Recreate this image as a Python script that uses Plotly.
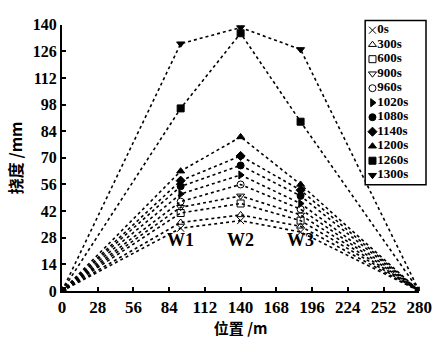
import plotly.graph_objects as go

positions = [0, 93, 140, 187, 280]
series_names = ["0s", "300s", "600s", "900s", "960s", "1020s", "1080s", "1140s", "1200s", "1260s", "1300s"]
w1 = [33, 36, 41, 44, 47, 51, 55, 58, 63, 96, 130]
w2 = [37, 40, 46, 50, 56, 61, 66, 71, 81, 135.5, 138.5]
w3 = [31, 34, 37, 40, 43, 46, 50, 53, 56, 89, 127]
symbols = ["x-thin", "triangle-up-open", "square-open", "triangle-down-open", "circle-open",
           "triangle-right", "circle", "diamond", "triangle-up", "square", "triangle-down"]
x_ticks = [0, 28, 56, 84, 112, 140, 168, 196, 224, 252, 280]
y_ticks = [0, 14, 28, 42, 56, 70, 84, 98, 112, 126, 140]
w_labels = ["W1", "W2", "W3"]

serif = "Liberation Serif"
cjk = "Noto Sans CJK SC"
fig = go.Figure()
for i, name in enumerate(series_names):
    ys = [0, w1[i], w2[i], w3[i], 0]
    fig.add_trace(go.Scatter(
        x=positions, y=ys, mode="lines", showlegend=False, hoverinfo="skip",
        line=dict(color="black", width=1.6, dash="dot"),
    ))
for i, name in enumerate(series_names):
    ys = [0, w1[i], w2[i], w3[i], 0]
    fig.add_trace(go.Scatter(
        x=positions, y=ys, name=name, mode="markers", showlegend=False,
        marker=dict(symbol=symbols[i], size=7, color="black",
                    line=dict(color="black", width=1)),
    ))

# legend drawn on its own small axis (entries come from series_names / symbols)
idx = list(range(len(series_names)))
for i, name in enumerate(series_names):
    fig.add_trace(go.Scatter(
        x=[0.12], y=[i], mode="markers", xaxis="x2", yaxis="y2", showlegend=False,
        hoverinfo="skip",
        marker=dict(symbol=symbols[i], size=7, color="black", line=dict(color="black", width=1)),
    ))
fig.add_trace(go.Scatter(
    x=[0.2] * len(series_names), y=idx, mode="text", xaxis="x2", yaxis="y2",
    text=["<b>%s</b>" % n for n in series_names], textposition="middle right",
    textfont=dict(family=serif, size=13, color="black"), showlegend=False, hoverinfo="skip",
))
fig.add_shape(type="rect", xref="x2 domain", yref="y2 domain", x0=0, x1=1, y0=0, y1=1,
              line=dict(color="black", width=1.5), fillcolor="rgba(0,0,0,0)")

for lbl, xp in zip(w_labels, positions[1:4]):
    fig.add_annotation(x=xp, y=27, text="<b>%s</b>" % lbl, showarrow=False,
                       font=dict(family=serif, size=18, color="black"))

fig.update_layout(
    width=447, height=341,
    margin=dict(l=62, r=8, t=8, b=48),
    paper_bgcolor="white", plot_bgcolor="white",
    font=dict(family=serif, size=15, color="black"),
    showlegend=False,
    xaxis=dict(domain=[0, 370 / 377], range=[0, 280], tickvals=x_ticks,
               ticktext=["<b>%d</b>" % v for v in x_ticks], tickfont=dict(family=serif, size=17),
               showgrid=False, zeroline=False, showline=True, linecolor="black", linewidth=2,
               ticks="inside", ticklen=4, tickwidth=1.5, tickcolor="black",
               title=dict(text="<b>位置 /m</b>", font=dict(family=cjk, size=15), standoff=5)),
    yaxis=dict(domain=[0, 276 / 285], range=[0, 140], tickvals=y_ticks,
               ticktext=["<b>%d</b>" % v for v in y_ticks], tickfont=dict(family=serif, size=16),
               showgrid=False, zeroline=False, showline=True, linecolor="black", linewidth=2,
               ticks="inside", ticklen=4, tickwidth=1.5, tickcolor="black",
               title=dict(text="<b>挠度 /mm</b>", font=dict(family=cjk, size=16), standoff=6)),
    xaxis2=dict(domain=[314 / 377, 377 / 377], range=[0, 1], anchor="y2",
                visible=False, fixedrange=True),
    yaxis2=dict(domain=[110 / 285, 280.3 / 285], range=[10.665, -0.665], anchor="x2",
                visible=False, fixedrange=True),
)

fig.write_html("out.html")
